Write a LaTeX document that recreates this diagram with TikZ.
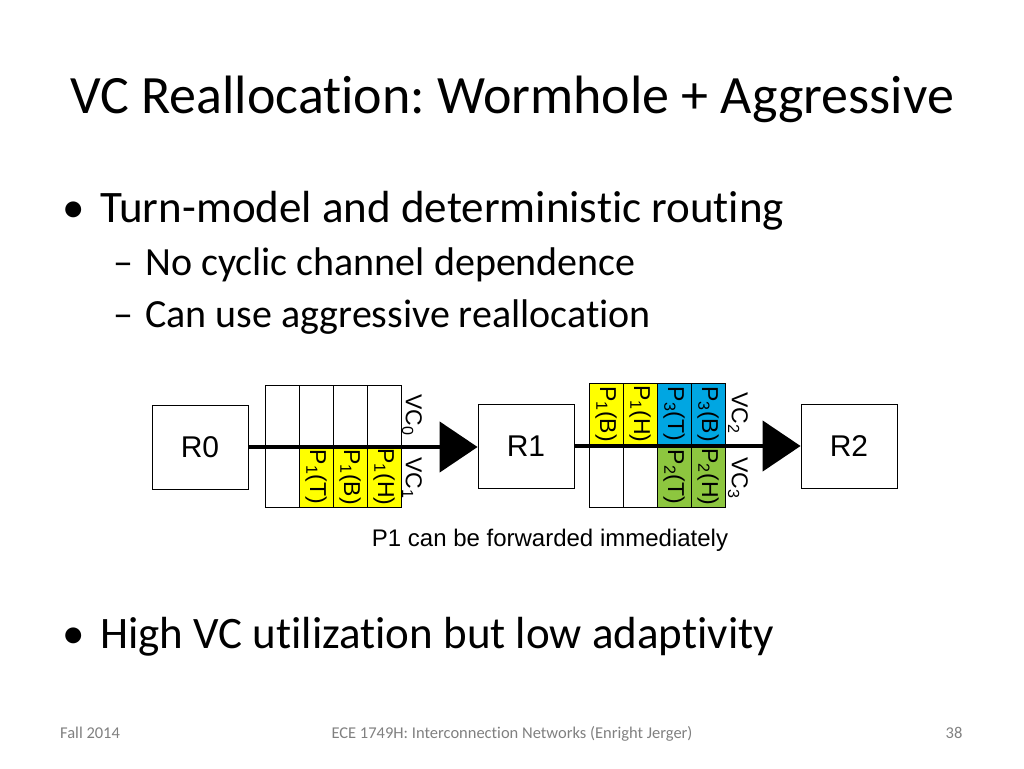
\documentclass[tikz,border=0pt]{standalone}
\usepackage{fontspec}
\setmainfont{Carlito}[Ligatures={NoCommon}]
\newfontfamily\hel{Liberation Sans}
\usetikzlibrary{arrows.meta}
\definecolor{pY}{HTML}{FFFF00}
\definecolor{pB}{HTML}{00A6E2}
\definecolor{pG}{HTML}{8DC63F}
\newcommand{\sbx}[1]{\textsubscript{#1}}
\begin{document}
\frenchspacing
\begin{tikzpicture}[x=1pt,y=-1pt,
  rbox/.style={draw,line width=0.8pt,minimum width=96pt,minimum height=84pt,font=\hel\fontsize{30}{30}\selectfont},
  cell/.style={draw,line width=0.8pt,minimum width=34pt,minimum height=61pt,inner sep=0pt},
  ctext/.style={rotate=-90,font=\hel\fontsize{23}{23}\selectfont},
  link/.style={line width=4.5pt,-{Triangle[length=38pt,width=50pt]}}]
\useasboundingbox (0,0) rectangle (1024,768);
\node[anchor=base west,inner sep=0pt,font=\fontsize{54}{54}\selectfont] (title) at (70,113) {VC Reallocation: Wormhole + Aggressive};
\node[anchor=base west,inner sep=0pt,font=\fontsize{45}{45}\selectfont] (b1) at (62,222) {\textbullet};
\node[anchor=base west,inner sep=0pt,font=\fontsize{45}{45}\selectfont] (b1t) at (100,222) {Turn-model and deterministic routing};
\node[anchor=base west,inner sep=0pt,font=\fontsize{40}{40}\selectfont] (s1) at (113,275) {–};
\node[anchor=base west,inner sep=0pt,font=\fontsize{40}{40}\selectfont] (s1t) at (145,275) {No cyclic channel dependence};
\node[anchor=base west,inner sep=0pt,font=\fontsize{40}{40}\selectfont] (s2) at (113,327) {–};
\node[anchor=base west,inner sep=0pt,font=\fontsize{40}{40}\selectfont] (s2t) at (145,327) {Can use aggressive reallocation};
\node[anchor=base west,inner sep=0pt,font=\fontsize{45}{45}\selectfont] (b2) at (62,648) {\textbullet};
\node[anchor=base west,inner sep=0pt,font=\fontsize{45}{45}\selectfont] (b2t) at (100,648) {High VC utilization but low adaptivity};
\node[anchor=base west,inner sep=0pt,font=\fontsize{16.5}{16.5}\selectfont,text=gray] (f1) at (60,738) {Fall 2014};
\node[anchor=base,inner sep=0pt,font=\fontsize{16.5}{16.5}\selectfont,text=gray] (f2) at (512,738) {ECE 1749H: Interconnection Networks (Enright Jerger)};
\node[anchor=base,inner sep=0pt,font=\fontsize{16.5}{16.5}\selectfont,text=gray] (f3) at (954,738) {38};
\node[rbox] (R0) at (200,447) {R0};
\node[rbox] (R1) at (526,446) {R1};
\node[rbox] (R2) at (849,446) {R2};
\foreach \i in {0,...,3}{
  \node[cell] (a\i) at (282+34*\i,416) {};
}
\node[cell] (b0) at (282,477) {};
\node[cell,fill=pY] (b1c) at (316,477) {}; \node[ctext] at (b1c) {P\sbx{1}(T)};
\node[cell,fill=pY] (b2c) at (350,477) {}; \node[ctext] at (b2c) {P\sbx{1}(B)};
\node[cell,fill=pY] (b3c) at (384,477) {}; \node[ctext] at (b3c) {P\sbx{1}(H)};
\node[ctext] (vc0) at (412,415) {VC\sbx{0}};
\node[ctext] (vc1) at (412,478) {VC\sbx{1}};
\node[cell,fill=pY] (c0) at (606,414) {}; \node[ctext] at (c0) {P\sbx{1}(B)};
\node[cell,fill=pY] (c1) at (640,414) {}; \node[ctext] at (c1) {P\sbx{1}(H)};
\node[cell,fill=pB] (c2) at (674,414) {}; \node[ctext] at (c2) {P\sbx{3}(T)};
\node[cell,fill=pB] (c3) at (708,414) {}; \node[ctext] at (c3) {P\sbx{3}(B)};
\node[cell] (d0) at (606,477) {};
\node[cell] (d1) at (640,477) {};
\node[cell,fill=pG] (d2) at (674,477) {}; \node[ctext] at (d2) {P\sbx{2}(T)};
\node[cell,fill=pG] (d3) at (708,477) {}; \node[ctext] at (d3) {P\sbx{2}(H)};
\node[ctext] (vc2) at (738,413) {VC\sbx{2}};
\node[ctext] (vc3) at (738,478) {VC\sbx{3}};
\draw[link] (R0.east|-0,447) -- (R1.west|-0,447);
\draw[link] (R1.east|-0,446) -- (R2.west|-0,446);
\node[font=\hel\fontsize{24}{24}\selectfont] (cap) at (550,540) {P1 can be forwarded immediately};
\end{tikzpicture}
\end{document}
